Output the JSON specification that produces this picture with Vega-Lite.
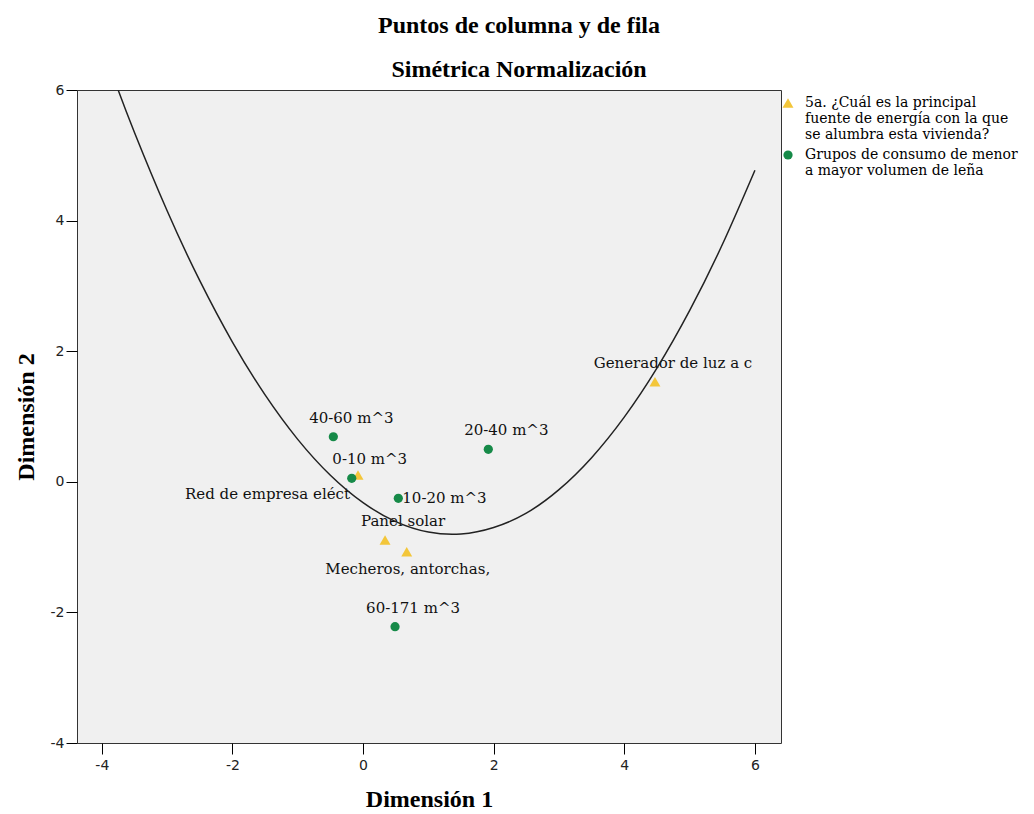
{
  "$schema": "https://vega.github.io/schema/vega-lite/v6.json",
  "width": 704,
  "height": 653,
  "autosize": {"type": "none"},
  "padding": {"left": 77, "top": 90, "right": 253, "bottom": 71},
  "background": "white",
  "title": {
    "text": "Puntos de columna y de fila",
    "subtitle": "Simétrica Normalización",
    "anchor": "middle",
    "frame": "bounds",
    "font": "Liberation Serif",
    "fontSize": 24,
    "fontWeight": "bold",
    "color": "#000000",
    "subtitleFont": "Liberation Serif",
    "subtitleFontSize": 24,
    "subtitleFontWeight": "bold",
    "subtitleColor": "#000000",
    "subtitlePadding": 20,
    "offset": 1
  },
  "datasets": {
    "puntos": [
      {"cat": "Red de empresa eléct", "d1": -0.077, "d2": 0.104, "grupo": "5a. ¿Cuál es la principal fuente de energía con la que se alumbra esta vivienda?"},
      {"cat": "Panel solar", "d1": 0.337, "d2": -0.891, "grupo": "5a. ¿Cuál es la principal fuente de energía con la que se alumbra esta vivienda?"},
      {"cat": "Mecheros, antorchas,", "d1": 0.669, "d2": -1.07, "grupo": "5a. ¿Cuál es la principal fuente de energía con la que se alumbra esta vivienda?"},
      {"cat": "Generador de luz a c", "d1": 4.47, "d2": 1.533, "grupo": "5a. ¿Cuál es la principal fuente de energía con la que se alumbra esta vivienda?"},
      {"cat": "40-60 m^3", "d1": -0.455, "d2": 0.69, "grupo": "Grupos de consumo de menor a mayor volumen de leña"},
      {"cat": "0-10 m^3", "d1": -0.173, "d2": 0.054, "grupo": "Grupos de consumo de menor a mayor volumen de leña"},
      {"cat": "10-20 m^3", "d1": 0.54, "d2": -0.253, "grupo": "Grupos de consumo de menor a mayor volumen de leña"},
      {"cat": "20-40 m^3", "d1": 1.918, "d2": 0.498, "grupo": "Grupos de consumo de menor a mayor volumen de leña"},
      {"cat": "60-171 m^3", "d1": 0.49, "d2": -2.219, "grupo": "Grupos de consumo de menor a mayor volumen de leña"}
    ],
    "curva": [
      {"d1": -3.75, "d2": 6.0},
      {"d1": -3.5, "d2": 5.35},
      {"d1": -3.0, "d2": 4.15},
      {"d1": -2.5, "d2": 3.08},
      {"d1": -2.0, "d2": 2.14},
      {"d1": -1.5, "d2": 1.33},
      {"d1": -1.0, "d2": 0.65},
      {"d1": -0.5, "d2": 0.1},
      {"d1": 0.0, "d2": -0.32},
      {"d1": 0.5, "d2": -0.61},
      {"d1": 1.0, "d2": -0.77},
      {"d1": 1.5, "d2": -0.8},
      {"d1": 2.0, "d2": -0.7},
      {"d1": 2.5, "d2": -0.48},
      {"d1": 3.0, "d2": -0.12},
      {"d1": 3.5, "d2": 0.37},
      {"d1": 4.0, "d2": 0.99},
      {"d1": 4.5, "d2": 1.74},
      {"d1": 5.0, "d2": 2.62},
      {"d1": 5.5, "d2": 3.63},
      {"d1": 6.0, "d2": 4.77}
    ]
  },
  "encoding": {
    "x": {
      "field": "d1",
      "type": "quantitative",
      "scale": {"domain": [-4.38, 6.4], "nice": false, "zero": false},
      "axis": {"values": [-4, -2, 0, 2, 4, 6], "title": "Dimensión 1", "labelPadding": 4, "titlePadding": 15}
    },
    "y": {
      "field": "d2",
      "type": "quantitative",
      "scale": {"domain": [-4, 6], "nice": false, "zero": false},
      "axis": {"values": [-4, -2, 0, 2, 4, 6], "title": "Dimensión 2", "labelPadding": 2, "titlePadding": 12}
    }
  },
  "layer": [
    {
      "data": {"name": "puntos"},
      "mark": {"type": "point", "filled": true, "opacity": 1},
      "encoding": {
        "color": {
          "field": "grupo",
          "type": "nominal",
          "scale": {
            "domain": ["5a. ¿Cuál es la principal fuente de energía con la que se alumbra esta vivienda?", "Grupos de consumo de menor a mayor volumen de leña"],
            "range": ["#F3C63A", "#168A48"]
          },
          "legend": {
            "title": null,
            "orient": "right",
            "offset": -6,
            "padding": 6,
            "labelFont": "DejaVu Serif",
            "labelFontSize": 14,
            "labelLineHeight": 14,
            "labelColor": "#000000",
            "labelLimit": 400,
            "labelOffset": 10,
            "rowPadding": 6,
            "labelExpr": "indexof(datum.label, '5a.') == 0 ? ['5a. ¿Cuál es la principal', 'fuente de energía con la que', 'se alumbra esta vivienda?'] : ['Grupos de consumo de menor', 'a mayor volumen de leña']"
          }
        },
        "shape": {
          "field": "grupo",
          "type": "nominal",
          "scale": {
            "domain": ["5a. ¿Cuál es la principal fuente de energía con la que se alumbra esta vivienda?", "Grupos de consumo de menor a mayor volumen de leña"],
            "range": ["triangle-up", "circle"]
          },
          "legend": null
        },
        "size": {
          "field": "grupo",
          "type": "nominal",
          "scale": {
            "domain": ["5a. ¿Cuál es la principal fuente de energía con la que se alumbra esta vivienda?", "Grupos de consumo de menor a mayor volumen de leña"],
            "range": [120, 85]
          },
          "legend": null
        }
      }
    },
    {
      "data": {"name": "puntos"},
      "transform": [{"filter": {"field": "cat", "oneOf": ["40-60 m^3", "20-40 m^3", "0-10 m^3", "60-171 m^3", "Panel solar", "Generador de luz a c"]}}],
      "mark": {"type": "text", "font": "DejaVu Serif", "fontSize": 15, "color": "#111111", "align": "center", "baseline": "middle", "dx": 18, "dy": -19},
      "encoding": {"text": {"field": "cat"}}
    },
    {
      "data": {"name": "puntos"},
      "transform": [{"filter": {"field": "cat", "equal": "10-20 m^3"}}],
      "mark": {"type": "text", "font": "DejaVu Serif", "fontSize": 15, "color": "#111111", "align": "left", "baseline": "middle", "dx": 4, "dy": 0},
      "encoding": {"text": {"field": "cat"}}
    },
    {
      "data": {"name": "puntos"},
      "transform": [{"filter": {"field": "cat", "equal": "Red de empresa eléct"}}],
      "mark": {"type": "text", "font": "DejaVu Serif", "fontSize": 15, "color": "#111111", "align": "right", "baseline": "middle", "dx": -8, "dy": 19},
      "encoding": {"text": {"field": "cat"}}
    },
    {
      "data": {"name": "puntos"},
      "transform": [{"filter": {"field": "cat", "equal": "Mecheros, antorchas,"}}],
      "mark": {"type": "text", "font": "DejaVu Serif", "fontSize": 15, "color": "#111111", "align": "center", "baseline": "middle", "dx": 1, "dy": 17},
      "encoding": {"text": {"field": "cat"}}
    },
    {
      "data": {"name": "curva"},
      "mark": {"type": "line", "color": "#222222", "strokeWidth": 1.5, "interpolate": "natural", "clip": true},
      "encoding": {}
    }
  ],
  "config": {
    "view": {"fill": "#F0F0F0", "stroke": "#333333", "strokeWidth": 1},
    "axis": {
      "grid": false,
      "domain": false,
      "ticks": true,
      "tickSize": 11,
      "tickColor": "#000000",
      "labelFont": "DejaVu Sans",
      "labelFontSize": 14,
      "labelColor": "#222222",
      "labelExpr": "replace(datum.label, '−', '-')",
      "titleFont": "Liberation Serif",
      "titleFontSize": 24,
      "titleFontWeight": "bold",
      "titleColor": "#000000"
    }
  }
}
